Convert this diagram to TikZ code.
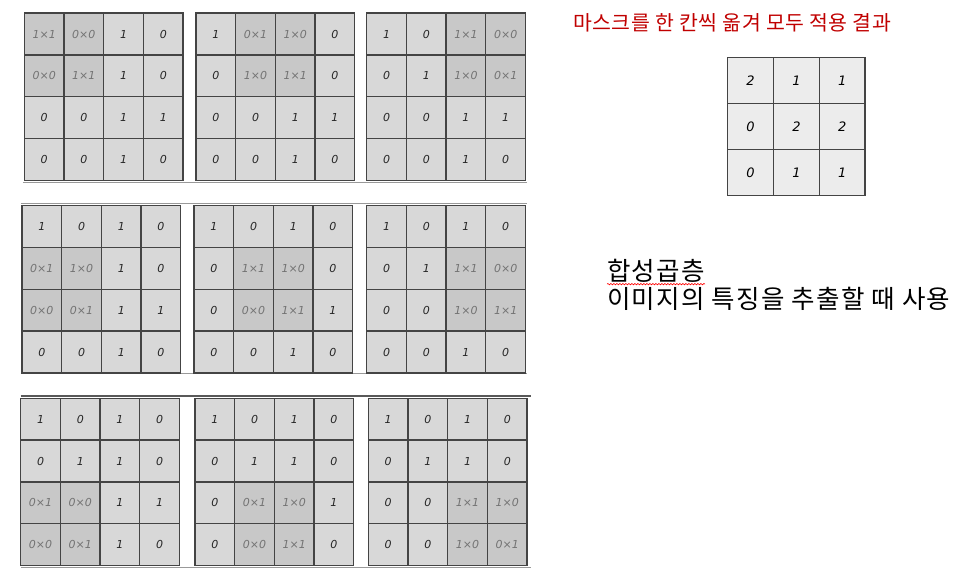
\documentclass[tikz,border=0pt]{standalone}
\usepackage{fontspec}
\usepackage{tikz}
\usetikzlibrary{decorations.pathmorphing}
\newfontfamily\redfont[LetterSpace=2.6]{Noto Sans CJK KR}
\newfontfamily\notefont[LetterSpace=5]{Noto Sans CJK KR}
\newfontfamily\handfont{DejaVu Sans}
\definecolor{cellfill}{HTML}{D8D8D8}
\definecolor{maskfill}{HTML}{C8C8C8}
\definecolor{sumfill}{HTML}{ECECEC}
\definecolor{gridline}{HTML}{444444}
\definecolor{titlered}{HTML}{C00000}
\tikzstyle{cell} = [rectangle, minimum width=39.7pt, minimum height=41.8pt, inner sep=0pt, draw=gridline, line width=1.3pt, fill=cellfill, text=black!85, font=\handfont\itshape\fontsize{11}{13}\selectfont]
\tikzstyle{maskcell} = [cell, fill=maskfill, text=black!55]
\tikzstyle{sumcell} = [cell, minimum width=45.8pt, minimum height=46pt, fill=sumfill, text=black, font=\handfont\itshape\fontsize{13}{15}\selectfont]
\tikzstyle{cut} = [line width=1.3pt, draw=black!40]
\newcommand{\by}{×}

\newcommand{\maskgrid}[6]{%
  \foreach \row [count=\r] in {#6} {
    \foreach \val [count=\c] in \row {
      \pgfmathtruncatemacro{\inmask}{and(and(\r>=#4,\r<=#4+1),and(\c>=#5,\c<=#5+1))}
      \ifnum\inmask=1 \tikzset{thiscell/.style={maskcell}}\else\tikzset{thiscell/.style={cell}}\fi
      \node (#1-\r-\c) [thiscell] at ({#2+(\c-0.5)*39.7},{#3+(\r-0.5)*41.8}) {\val};
    }
  }
}

\begin{document}
\begin{tikzpicture}[x=1pt, y=-1pt]
\useasboundingbox (0,0) rectangle (961,578);

\draw [cut] (23.3,182.3) -- (527,182.3);
\draw [cut] (20.7,203.3) -- (527,203.3);
\draw [cut] (20.7,373.8) -- (527,373.8);
\draw [cut, line width=2.2pt, draw=black!65] (20.7,396) -- (531,396);
\draw [cut] (20.7,567.5) -- (531,567.5);

\maskgrid{conv11}{24.3}{13.1}{1}{1}{{1\by1,0\by0,1,0},{0\by0,1\by1,1,0},{0,0,1,1},{0,0,1,0}}
\maskgrid{conv12}{196}{13.1}{1}{2}{{1,0\by1,1\by0,0},{0,1\by0,1\by1,0},{0,0,1,1},{0,0,1,0}}
\maskgrid{conv13}{366.7}{13.1}{1}{3}{{1,0,1\by1,0\by0},{0,1,1\by0,0\by1},{0,0,1,1},{0,0,1,0}}
\maskgrid{conv21}{22}{205.7}{2}{1}{{1,0,1,0},{0\by1,1\by0,1,0},{0\by0,0\by1,1,1},{0,0,1,0}}
\maskgrid{conv22}{194}{205.7}{2}{2}{{1,0,1,0},{0,1\by1,1\by0,0},{0,0\by0,1\by1,1},{0,0,1,0}}
\maskgrid{conv23}{366.7}{205.7}{2}{3}{{1,0,1,0},{0,1,1\by1,0\by0},{0,0,1\by0,1\by1},{0,0,1,0}}
\maskgrid{conv31}{20.7}{398.3}{3}{1}{{1,0,1,0},{0,1,1,0},{0\by1,0\by0,1,1},{0\by0,0\by1,1,0}}
\maskgrid{conv32}{195}{398.3}{3}{2}{{1,0,1,0},{0,1,1,0},{0,0\by1,1\by0,1},{0,0\by0,1\by1,0}}
\maskgrid{conv33}{368.3}{398.3}{3}{3}{{1,0,1,0},{0,1,1,0},{0,0,1\by1,1\by0},{0,0,1\by0,0\by1}}

\foreach \row [count=\r] in {{2,1,1},{0,2,2},{0,1,1}} {
  \foreach \val [count=\c] in \row
    \node (sum-\r-\c) [sumcell] at ({727.7+(\c-0.5)*45.8},{57.7+(\r-0.5)*46}) {\val};
}

\node (result) [anchor=base west, inner sep=0pt, text=titlered, font=\redfont\fontsize{20.5}{24}\selectfont] at (573,30.5) {마스크를 한 칸씩 옮겨 모두 적용 결과};
\node (layer) [anchor=base west, inner sep=0pt, font=\notefont\fontsize{25.5}{30}\selectfont] at (607,280.5) {합성곱층};
\node (usage) [anchor=base west, inner sep=0pt, font=\notefont\fontsize{25.5}{30}\selectfont] at (607,308.5) {이미지의 특징을 추출할 때 사용};
\draw [red, line width=0.6pt, decorate, decoration={snake, amplitude=0.7pt, segment length=3pt}] ([yshift=-1.5pt]layer.south west) -- ([yshift=-1.5pt]layer.south east);

\end{tikzpicture}
\end{document}
